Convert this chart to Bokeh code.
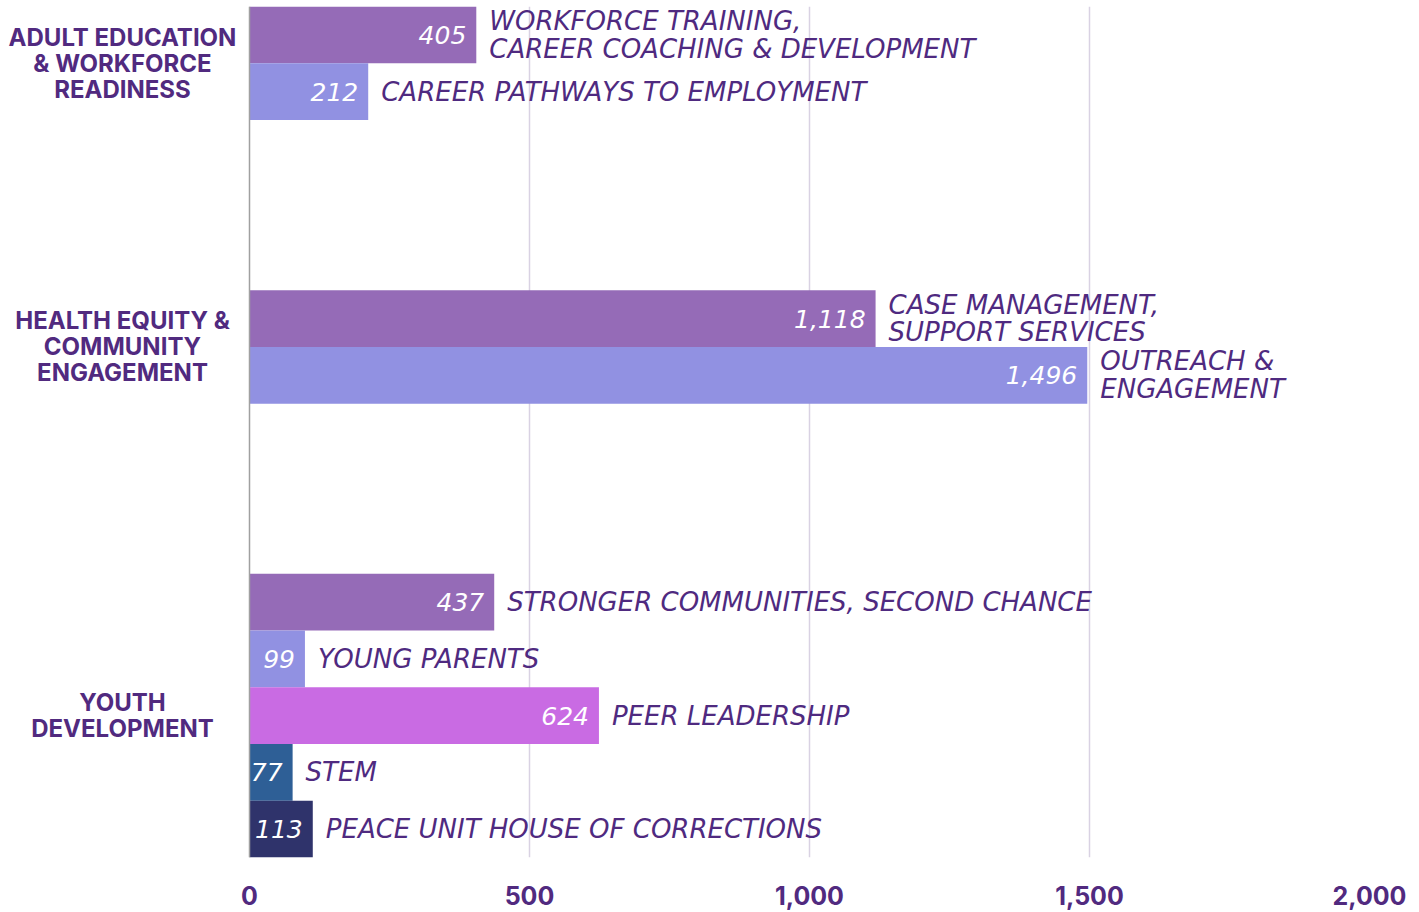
from bokeh.plotting import figure
from bokeh.models import ColumnDataSource, Range1d, FixedTicker, NumeralTickFormatter, Span
from bokeh.core.properties import value
from bokeh.embed import file_html
from bokeh.resources import INLINE

# ---- data ----
groups = ["ADULT EDUCATION\n& WORKFORCE\nREADINESS",
          "HEALTH EQUITY &\nCOMMUNITY\nENGAGEMENT",
          "YOUTH\nDEVELOPMENT"]
programs = ["WORKFORCE TRAINING,\nCAREER COACHING & DEVELOPMENT",
            "CAREER PATHWAYS TO EMPLOYMENT",
            "CASE MANAGEMENT,\nSUPPORT SERVICES",
            "OUTREACH &\nENGAGEMENT",
            "STRONGER COMMUNITIES, SECOND CHANCE",
            "YOUNG PARENTS",
            "PEER LEADERSHIP",
            "STEM",
            "PEACE UNIT HOUSE OF CORRECTIONS"]
program_group = [0, 0, 1, 1, 2, 2, 2, 2, 2]
values = [405, 212, 1118, 1496, 437, 99, 624, 77, 113]
colors = ["#956BB7", "#9191E2", "#956BB7", "#9191E2",
          "#956BB7", "#9191E2", "#C96BE3", "#2E5F96", "#2F336B"]
x_ticks = [0, 500, 1000, 1500, 2000]

# ---- layout constants ----
GAP = 3                 # empty slots between groups
W, H = 1419, 912
ZERO_PX, MAX_PX = 249, 1369   # screen x of 0 and of 2000
TOP_PX, BOTTOM_PX = 6, 857
GROUP_LABEL_PX = 122          # screen x of the group label centres
TEXT_COLOR = "#4F2A80"
BOLD_COLOR = "#512A7F"

# slot positions
ys = []
slot = 0
prev = program_group[0]
for g in program_group:
    if g != prev:
        slot += GAP
        prev = g
    ys.append(slot + 0.5)
    slot += 1
n_slots = slot

group_centers = []
for gi in range(len(groups)):
    yy = [y for y, g in zip(ys, program_group) if g == gi]
    group_centers.append((min(yy) + max(yy)) / 2)

x_max = x_ticks[-1]
px_per_unit = (MAX_PX - ZERO_PX) / x_max
x_min = -ZERO_PX / px_per_unit
group_label_x = (GROUP_LABEL_PX - ZERO_PX) / px_per_unit

src = ColumnDataSource(dict(
    y=ys, v=values, color=colors, name=programs,
    vlab=[f"{v:,}" for v in values],
))
gsrc = ColumnDataSource(dict(
    x=[group_label_x] * len(groups), y=group_centers, text=groups,
))

p = figure(width=W, height=H, output_backend="svg", toolbar_location=None,
           x_range=Range1d(x_min, x_max), y_range=Range1d(n_slots, 0),
           min_border_left=0, min_border_right=W - MAX_PX,
           min_border_top=TOP_PX, min_border_bottom=H - BOTTOM_PX)
p.outline_line_color = None
p.background_fill_color = "white"

# grid (drawn first, under the bars)
p.xgrid.ticker = FixedTicker(ticks=x_ticks[1:])
p.xgrid.grid_line_color = "#D9D2E3"
p.xgrid.grid_line_width = 1.5
p.ygrid.grid_line_color = None

p.hbar(y="y", left=0, right="v", height=1.0, color="color", source=src,
       line_color=None)

p.text(x="v", y="y", text="vlab", source=src, x_offset=-10,
       text_align="right", text_baseline="middle", text_color="white",
       text_font=value("DejaVu Sans"), text_font_style="italic",
       text_font_size="25px")

p.text(x="v", y="y", text="name", source=src, x_offset=13,
       text_align="left", text_baseline="middle", text_color=TEXT_COLOR,
       text_font=value("DejaVu Sans"), text_font_style="italic",
       text_font_size="26px", text_line_height=0.93)

p.text(x="x", y="y", text="text", source=gsrc,
       text_align="center", text_baseline="middle", text_color=BOLD_COLOR,
       text_font=value("Inter"), text_font_style="bold",
       text_font_size="24px", text_line_height=0.9)

p.add_layout(Span(location=0, dimension="height", line_color="#A0A0A0",
                  line_width=1.5))

# axes
p.xaxis.ticker = FixedTicker(ticks=x_ticks)
p.xaxis.formatter = NumeralTickFormatter(format="0,0")
p.xaxis.axis_line_color = None
p.xaxis.major_tick_line_color = None
p.xaxis.minor_tick_line_color = None
p.xaxis.major_label_standoff = 22
p.xaxis.major_label_text_font = "Inter"
p.xaxis.major_label_text_font_style = "bold"
p.xaxis.major_label_text_font_size = "25px"
p.xaxis.major_label_text_color = BOLD_COLOR
p.yaxis.visible = False

open("out.html", "w").write(file_html(p, INLINE))
